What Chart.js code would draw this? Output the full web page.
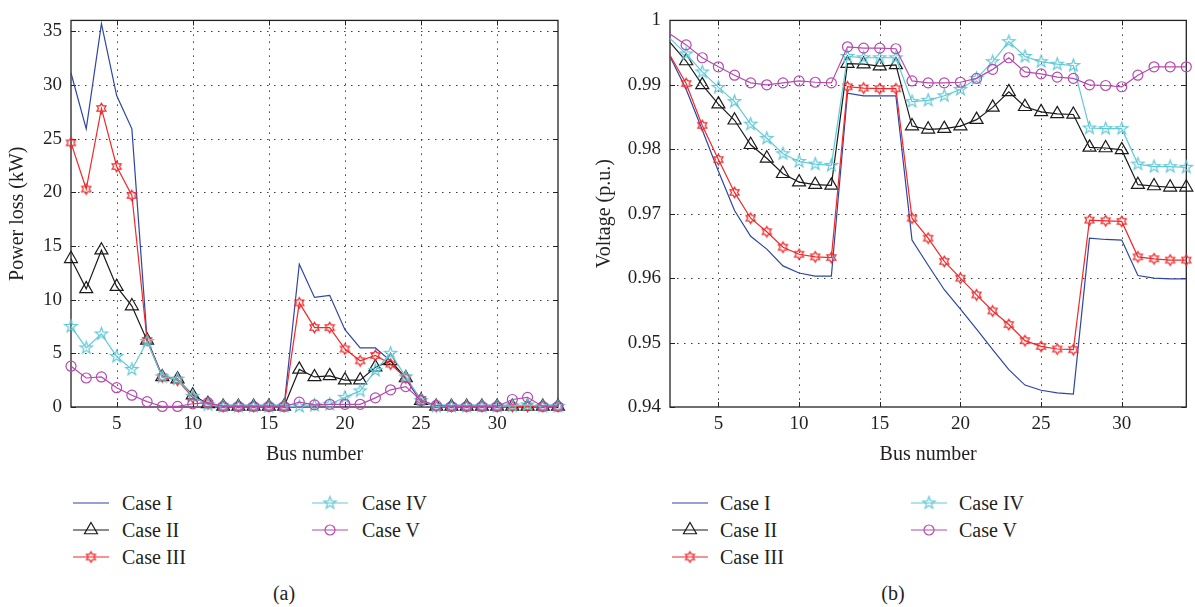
<!DOCTYPE html>
<html>
<head>
<meta charset="utf-8">
<script src="https://cdn.jsdelivr.net/npm/chart.js@4.4.1/dist/chart.umd.min.js"></script>
<style>
  html, body { margin: 0; padding: 0; background: #fff; }
  body { width: 1195px; height: 607px; position: relative; overflow: hidden;
         font-family: 'Liberation Serif', 'DejaVu Serif', serif; color: #231f20; }
  canvas.chart { position: absolute; top: 0; }
  #lossChart { left: 0; }
  #voltChart { left: 585px; }
  .item { position: absolute; height: 22px; line-height: 22px; font-size: 20px; white-space: nowrap; }
  .item canvas { position: absolute; left: 0; top: 0; }
  .item span { position: absolute; top: 0; }
  .caption { position: absolute; top: 582px; line-height: 22px; font-size: 20px; transform: translateX(-50%); }
</style>
</head>
<body>
<canvas id="lossChart" class="chart" width="585" height="470"></canvas>
<canvas id="voltChart" class="chart" width="610" height="470"></canvas>
<div id="legends"></div>
<div class="caption" style="left:284px">(a)</div>
<div class="caption" style="left:893px">(b)</div>
<script>
// data
const busNumbers = [2, 3, 4, 5, 6, 7, 8, 9, 10, 11, 12, 13, 14, 15, 16, 17, 18,
                    19, 20, 21, 22, 23, 24, 25, 26, 27, 28, 29, 30, 31, 32, 33, 34];
const busTicks = [5, 10, 15, 20, 25, 30];
const lossTicks = [0, 5, 10, 15, 20, 25, 30, 35];
const voltTicks = [0.94, 0.95, 0.96, 0.97, 0.98, 0.99, 1];
const caseNames = ['Case I', 'Case II', 'Case III', 'Case IV', 'Case V'];

// power loss (kW), buses 2..34
const lossCase1 = [31.1, 25.9, 35.7, 29.0, 25.9, 6.3, 2.9, 2.6, 0.9, 0.3, 0.05, 0.05, 0.05, 0.05, 0.05,
                   13.3, 10.2, 10.4, 7.2, 5.5, 5.5, 4.3, 2.6, 0.5, 0.05, 0.05, 0.05, 0.05, 0.05, 0.05, 0.05, 0.05, 0.05];
const lossCase2 = [13.8, 11.0, 14.6, 11.2, 9.4, 6.2, 2.8, 2.6, 1.1, 0.3, 0.05, 0.05, 0.05, 0.05, 0.05,
                   3.5, 2.8, 2.9, 2.5, 2.5, 3.7, 4.3, 2.7, 0.6, 0.05, 0.05, 0.05, 0.05, 0.05, 0.05, 0.05, 0.05, 0.05];
const lossCase3 = [24.6, 20.3, 27.8, 22.4, 19.7, 6.2, 2.8, 2.5, 0.9, 0.3, 0.05, 0.05, 0.05, 0.05, 0.05,
                   9.7, 7.4, 7.4, 5.4, 4.3, 4.8, 4.0, 2.7, 0.7, 0.05, 0.05, 0.05, 0.05, 0.05, 0.05, 0.05, 0.05, 0.05];
const lossCase4 = [7.5, 5.5, 6.8, 4.7, 3.5, 6.1, 2.8, 2.6, 1.0, 0.2, 0.05, 0.05, 0.05, 0.05, 0.05,
                   0.05, 0.15, 0.25, 0.9, 1.5, 3.4, 5.0, 2.8, 0.6, 0.05, 0.05, 0.05, 0.05, 0.05, 0.1, 0.2, 0.05, 0.05];
const lossCase5 = [3.8, 2.7, 2.8, 1.8, 1.1, 0.5, 0.05, 0.05, 0.3, 0.4, 0.05, 0.05, 0.05, 0.05, 0.05,
                   0.45, 0.2, 0.25, 0.25, 0.25, 0.85, 1.6, 1.9, 0.6, 0.15, 0.05, 0.05, 0.05, 0.05, 0.7, 0.9, 0.05, 0.05];

// voltage (p.u.), buses 2..34
const voltCase1 = [0.9944, 0.9893, 0.9830, 0.9766, 0.9705, 0.9665, 0.9645, 0.9619, 0.9608, 0.9603, 0.9603,
                   0.9887, 0.9883, 0.9883, 0.9883, 0.9659, 0.9620, 0.9582, 0.9552, 0.9521, 0.9489, 0.9458,
                   0.9434, 0.9426, 0.9422, 0.9420, 0.9662, 0.9660, 0.9659, 0.9604, 0.9600, 0.9599, 0.9599];
const voltCase2 = [0.9966, 0.9937, 0.9900, 0.9870, 0.9845, 0.9807, 0.9786, 0.9762, 0.9749, 0.9745, 0.9744,
                   0.9933, 0.9932, 0.9929, 0.9931, 0.9836, 0.9831, 0.9832, 0.9836, 0.9846, 0.9865, 0.9889,
                   0.9866, 0.9858, 0.9855, 0.9854, 0.9803, 0.9802, 0.9799, 0.9745, 0.9743, 0.9741, 0.9741];
const voltCase3 = [0.9946, 0.9902, 0.9837, 0.9784, 0.9733, 0.9693, 0.9672, 0.9648, 0.9637, 0.9633, 0.9632,
                   0.9897, 0.9895, 0.9894, 0.9894, 0.9693, 0.9662, 0.9626, 0.9600, 0.9574, 0.9549, 0.9528,
                   0.9503, 0.9494, 0.9490, 0.9489, 0.9690, 0.9689, 0.9688, 0.9633, 0.9630, 0.9628, 0.9628];
const voltCase4 = [0.9972, 0.9948, 0.9920, 0.9896, 0.9874, 0.9839, 0.9817, 0.9793, 0.9781, 0.9777, 0.9775,
                   0.9944, 0.9942, 0.9942, 0.9942, 0.9874, 0.9876, 0.9883, 0.9893, 0.9910, 0.9936, 0.9967,
                   0.9944, 0.9936, 0.9932, 0.9930, 0.9833, 0.9832, 0.9832, 0.9777, 0.9773, 0.9773, 0.9772];
const voltCase5 = [0.9979, 0.9962, 0.9942, 0.9928, 0.9915, 0.9903, 0.9900, 0.9903, 0.9906, 0.9904, 0.9903,
                   0.9959, 0.9957, 0.9957, 0.9956, 0.9906, 0.9903, 0.9903, 0.9904, 0.9910, 0.9924, 0.9942,
                   0.9920, 0.9917, 0.9912, 0.9910, 0.9900, 0.9899, 0.9897, 0.9915, 0.9928, 0.9928, 0.9928];

const caseColors = ['#2f45a5', '#1a1a1a', '#f2282a', '#62c9d6', '#b64aae'];
const textColor = '#231f20';
const tickFont = { family: "'Liberation Serif', serif", size: 19 };
const titleFont = { family: "'Liberation Serif', serif", size: 20 };

function drawStar(g, cx, cy, points, outer, inner, color) {
    g.beginPath();
    for (let i = 0; i < points * 2; i++) {
        const r = i % 2 ? inner : outer;
        const ang = -Math.PI / 2 + i * Math.PI / points;
        const px = cx + r * Math.cos(ang), py = cy + r * Math.sin(ang);
        if (i === 0) g.moveTo(px, py); else g.lineTo(px, py);
    }
    g.closePath();
    g.strokeStyle = color;
    g.lineWidth = 1.2;
    g.stroke();
}

function starCanvas(points, outer, inner, color) {
    const c = document.createElement('canvas');
    c.width = c.height = Math.ceil(outer * 2 + 4);
    drawStar(c.getContext('2d'), c.width / 2, c.height / 2, points, outer, inner, color);
    return c;
}

const markers = [
    null,
    'triangle',
    starCanvas(6, 5.2, 3.0, caseColors[2]),
    starCanvas(5, 6.5, 2.6, caseColors[3]),
    'circle'
];
const markerRadius = [0, 7.5, 5, 6, 5];

function makeDatasets(series, hideFirstMarker) {
    return series.map((vals, i) => ({
        label: caseNames[i],
        data: busNumbers.map((b, k) => ({ x: b, y: vals[k] })),
        borderColor: caseColors[i],
        backgroundColor: 'rgba(0,0,0,0)',
        borderWidth: 1.2,
        pointStyle: markers[i] || 'circle',
        pointRadius: ctx => (i === 0 || (hideFirstMarker && ctx.dataIndex === 0)) ? 0 : markerRadius[i],
        pointBorderColor: caseColors[i],
        pointBackgroundColor: 'rgba(0,0,0,0)',
        pointBorderWidth: 1.2,
        tension: 0,
        clip: false,
        order: 5 - i
    }));
}

// matlab style box: dotted grid, frame, inward ticks
const matlabFrame = {
    id: 'matlabFrame',
    beforeDatasetsDraw(chart) {
        const { ctx, chartArea: a, scales: { x, y } } = chart;
        ctx.save();
        ctx.strokeStyle = '#3a3a3a';
        ctx.lineWidth = 1;
        ctx.setLineDash([1.5, 5.5]);
        x.ticks.forEach(t => {
            const px = Math.round(x.getPixelForValue(t.value)) + 0.5;
            if (px - a.left < 2 || a.right - px < 2) return;
            ctx.beginPath(); ctx.moveTo(px, a.top); ctx.lineTo(px, a.bottom); ctx.stroke();
        });
        y.ticks.forEach(t => {
            const py = Math.round(y.getPixelForValue(t.value)) + 0.5;
            if (py - a.top < 2 || a.bottom - py < 2) return;
            ctx.beginPath(); ctx.moveTo(a.left, py); ctx.lineTo(a.right, py); ctx.stroke();
        });
        ctx.setLineDash([]);
        ctx.strokeStyle = '#222';
        ctx.lineWidth = 1.3;
        ctx.strokeRect(a.left, a.top, a.right - a.left, a.bottom - a.top);
        ctx.lineWidth = 1;
        x.ticks.forEach(t => {
            const px = Math.round(x.getPixelForValue(t.value)) + 0.5;
            ctx.beginPath();
            ctx.moveTo(px, a.bottom); ctx.lineTo(px, a.bottom - 5);
            ctx.moveTo(px, a.top); ctx.lineTo(px, a.top + 5);
            ctx.stroke();
        });
        y.ticks.forEach(t => {
            const py = Math.round(y.getPixelForValue(t.value)) + 0.5;
            ctx.beginPath();
            ctx.moveTo(a.left, py); ctx.lineTo(a.left + 5, py);
            ctx.moveTo(a.right, py); ctx.lineTo(a.right - 5, py);
            ctx.stroke();
        });
        ctx.restore();
    }
};

function makeOptions(cfg) {
    return {
        responsive: false,
        animation: false,
        events: [],
        layout: { padding: { top: cfg.top, right: cfg.right, left: 0, bottom: 0 } },
        plugins: { legend: { display: false }, tooltip: { enabled: false } },
        scales: {
            x: {
                type: 'linear', min: 2, max: 34,
                afterBuildTicks: s => { s.ticks = busTicks.map(v => ({ value: v })); },
                afterFit: s => { s.height = 63; },
                grid: { display: false, drawTicks: false },
                border: { display: false },
                ticks: { padding: 6, color: textColor, font: tickFont, maxRotation: 0, autoSkip: false },
                title: { display: true, text: 'Bus number', color: textColor, font: titleFont,
                         padding: { top: 0, bottom: 3 } }
            },
            y: {
                type: 'linear', min: cfg.min, max: cfg.max,
                afterBuildTicks: s => { s.ticks = cfg.ticks.map(v => ({ value: v })); },
                afterFit: s => { s.width = cfg.axisWidth; },
                grid: { display: false, drawTicks: false },
                border: { display: false },
                ticks: { padding: 9, color: textColor, font: tickFont, autoSkip: false, callback: cfg.format },
                title: { display: true, text: cfg.title, color: textColor, font: titleFont,
                         padding: { top: cfg.titlePad, bottom: 0 } }
            }
        }
    };
}

new Chart(document.getElementById('lossChart'), {
    type: 'line',
    data: { datasets: makeDatasets([lossCase1, lossCase2, lossCase3, lossCase4, lossCase5], false) },
    options: makeOptions({ top: 17, right: 27, min: 0, max: 36, ticks: lossTicks, axisWidth: 71,
                           title: 'Power loss (kW)', titlePad: 6, format: v => String(v) }),
    plugins: [matlabFrame]
});

new Chart(document.getElementById('voltChart'), {
    type: 'line',
    data: { datasets: makeDatasets([voltCase1, voltCase2, voltCase3, voltCase4, voltCase5], true) },
    options: makeOptions({ top: 15, right: 2, min: 0.94, max: 1, ticks: voltTicks, axisWidth: 85,
                           title: 'Voltage (p.u.)', titlePad: 8,
                           format: v => v === 1 ? '1' : v.toFixed(2) }),
    plugins: [matlabFrame]
});

// legends (two columns, column-major like the original)
function drawLegendSymbol(cv, i) {
    const g = cv.getContext('2d');
    const w = cv.width, cy = cv.height / 2, cx = w / 2;
    g.strokeStyle = caseColors[i];
    g.lineWidth = 1.2;
    g.beginPath(); g.moveTo(0, cy); g.lineTo(w, cy); g.stroke();
    const m = markers[i];
    if (m === 'triangle') {
        const r = markerRadius[i];
        g.beginPath();
        g.moveTo(cx, cy - r);
        g.lineTo(cx + 0.866 * r, cy + 0.5 * r);
        g.lineTo(cx - 0.866 * r, cy + 0.5 * r);
        g.closePath();
        g.stroke();
    } else if (m === 'circle') {
        g.beginPath(); g.arc(cx, cy, markerRadius[i], 0, Math.PI * 2); g.stroke();
    } else if (m) {
        g.drawImage(m, cx - m.width / 2, cy - m.height / 2);
    }
}

const legendRows = [503, 530, 557];
const legendCols = [
    [{ line: 73, text: 122 }, { line: 312, text: 362 }],
    [{ line: 672, text: 720 }, { line: 911, text: 959 }]
];
const holder = document.getElementById('legends');
legendCols.forEach(cols => {
    caseNames.forEach((name, i) => {
        const col = cols[i < 3 ? 0 : 1];
        const row = legendRows[i < 3 ? i : i - 3];
        const item = document.createElement('div');
        item.className = 'item';
        item.style.left = col.line + 'px';
        item.style.top = (row - 11) + 'px';
        const cv = document.createElement('canvas');
        cv.width = 36; cv.height = 22;
        drawLegendSymbol(cv, i);
        const span = document.createElement('span');
        span.textContent = name;
        span.style.left = (col.text - col.line) + 'px';
        item.appendChild(cv);
        item.appendChild(span);
        holder.appendChild(item);
    });
});
</script>
</body>
</html>
